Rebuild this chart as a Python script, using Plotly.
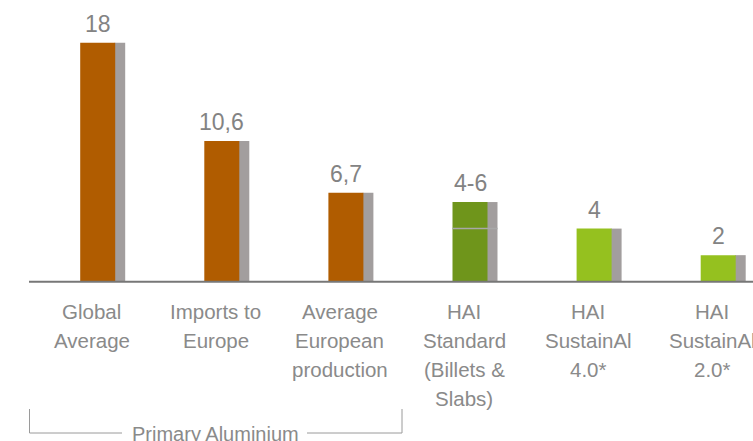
import plotly.graph_objects as go

# ---- data ----
categories = ["Global<br>Average", "Imports to<br>Europe", "Average<br>European<br>production",
              "HAI<br>Standard<br>(Billets &<br>Slabs)", "HAI<br>SustainAl<br>4.0*", "HAI<br>SustainAl<br>2.0*"]
values = [18, 10.6, 6.7, 6, 4, 2]
value_labels = ["18", "10,6", "6,7", "4-6", "4", "2"]
range_low = [None, None, None, 4, None, None]
bar_colors = ["#B05C00", "#B05C00", "#B05C00", "#6F951B", "#95C11F", "#95C11F"]
side_color = "#A29E9E"
group_label = "Primary Aluminium"

W, H = 753, 441
L, B = 29, 146
PX_X = 124.1           # px per category
PX_Y = 13.28           # px per unit
plot_w = W - L
plot_h = H - B
xmin = -(97.7 - L) / PX_X
xmax = xmin + plot_w / PX_X
ymin = -1
ymax = ymin + plot_h / PX_Y

xs = list(range(len(values)))
ow = 35 / PX_X
gw = 10 / PX_X

fig = go.Figure()
# grey side strips
fig.add_trace(go.Bar(x=xs, y=values, width=[gw + 0.006] * len(xs), offset=[ow / 2 - 0.006] * len(xs),
                     marker=dict(color=side_color, line=dict(width=0)), hoverinfo="skip"))
# main bars
fig.add_trace(go.Bar(x=xs, y=values, width=[ow] * len(xs), offset=[-ow / 2] * len(xs),
                     marker=dict(color=bar_colors, line=dict(width=0)), hoverinfo="skip"))

font_family = "Liberation Sans, Arial, sans-serif"
txt_color = "#8a8a8a"

annotations = []
shapes = []
# value labels
for i, (v, t) in enumerate(zip(values, value_labels)):
    annotations.append(dict(x=i, y=v, xref="x", yref="y", text=t, showarrow=False,
                            yanchor="middle", xanchor="center", yshift=19,
                            font=dict(family=font_family, size=23, color="#838383")))
# range markers
for i, lo in enumerate(range_low):
    if lo is not None:
        shapes.append(dict(type="line", xref="x", yref="y", x0=i - ow / 2, x1=i + ow / 2 + gw,
                           y0=lo, y1=lo, line=dict(color="#A8A8A8", width=1.5)))

# category labels, one line at a time
def py(px):
    return (plot_h - px) / plot_h

baselines = [319, 348, 377, 406]
for i, cat in enumerate(categories):
    for j, line in enumerate(cat.split("<br>")):
        annotations.append(dict(x=i - 6 / PX_X, y=py(baselines[j] - 7.3), xref="x", yref="paper",
                                text=line, showarrow=False, xanchor="center", yanchor="middle",
                                font=dict(family=font_family, size=20.5, color=txt_color)))

# axis baseline
shapes.append(dict(type="line", xref="paper", yref="y", x0=0, x1=1, y0=0, y1=0,
                   line=dict(color="#777777", width=2)))

# bracket for primary aluminium
def pxx(px):
    return (px - L) / plot_w

bc = dict(color="#9A9A9A", width=1)
shapes += [
    dict(type="line", xref="paper", yref="paper", x0=pxx(29.5), x1=pxx(29.5), y0=py(409), y1=py(433), line=bc),
    dict(type="line", xref="paper", yref="paper", x0=pxx(29.5), x1=pxx(122), y0=py(433), y1=py(433), line=bc),
    dict(type="line", xref="paper", yref="paper", x0=pxx(307), x1=pxx(402), y0=py(433), y1=py(433), line=bc),
    dict(type="line", xref="paper", yref="paper", x0=pxx(402), x1=pxx(402), y0=py(409), y1=py(433), line=bc),
]
annotations.append(dict(x=pxx(216), y=py(433.5), xref="paper", yref="paper", text=group_label,
                        showarrow=False, xanchor="center", yanchor="middle",
                        font=dict(family=font_family, size=20, color=txt_color)))

fig.update_layout(
    width=W, height=H,
    margin=dict(l=L, r=0, t=0, b=B, pad=0),
    paper_bgcolor="white", plot_bgcolor="white",
    barmode="overlay", showlegend=False,
    xaxis=dict(range=[xmin, xmax], visible=False, fixedrange=True),
    yaxis=dict(range=[ymin, ymax], visible=False, fixedrange=True),
    annotations=annotations, shapes=shapes,
)

fig.write_html("out.html", config={"displayModeBar": False})
